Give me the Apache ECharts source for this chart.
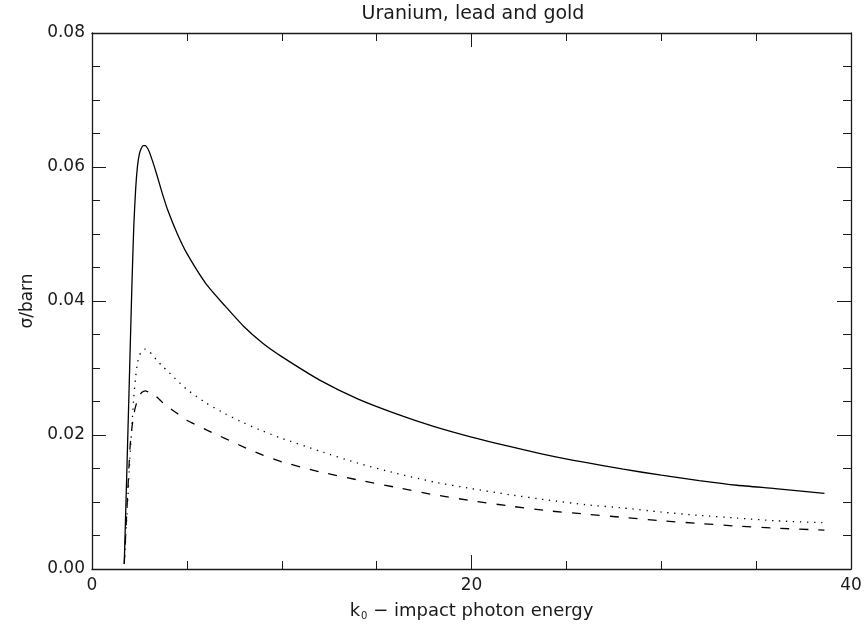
<!DOCTYPE html>
<html>
<head>
<meta charset="utf-8">
<script src="https://cdn.jsdelivr.net/npm/echarts@6/dist/echarts.min.js"></script>
<style>
  html, body { margin: 0; padding: 0; background: #fff; }
  #chart { width: 865px; height: 628px; }
</style>
</head>
<body>
<div id="chart"></div>
<script>
// Photon energy grid (k0) shared by the three cross-section curves
const k0 = [1.70, 1.85, 2.0, 2.1, 2.2, 2.3, 2.4, 2.5, 2.6, 2.7, 2.8, 3.0, 3.2, 3.4, 3.7, 4.0, 4.5, 5.0, 6.0, 7.0, 8.0, 9.0,
            10, 12, 14, 16, 18, 20, 22, 24, 26, 28, 30, 32, 34, 36, 38.6];

// Cross sections in barn
const sigmaSolid = [0.0008, 0.0160, 0.0316, 0.0420, 0.0510, 0.0567, 0.0602, 0.0620, 0.0628, 0.0632, 0.0632, 0.0624, 0.0608, 0.0590, 0.0561,
                    0.0535, 0.0500, 0.0471, 0.0426, 0.0393, 0.0362, 0.0337, 0.0317, 0.0282, 0.0254, 0.0232, 0.0213,
                    0.0197, 0.0183, 0.0170, 0.0159, 0.0149, 0.0140, 0.0132, 0.0125, 0.0120, 0.0113];
const sigmaDotted = [0.0008, 0.0085, 0.0165, 0.0212, 0.0255, 0.0287, 0.0308, 0.0319, 0.0324, 0.0327, 0.0328, 0.0325, 0.0319, 0.0312, 0.0303,
                     0.0295, 0.0281, 0.0268, 0.0248, 0.0232, 0.0218, 0.0206, 0.0195, 0.0176, 0.0158, 0.0143, 0.0130,
                     0.0120, 0.0111, 0.0103, 0.0096, 0.0091, 0.0085, 0.0080, 0.0076, 0.0072, 0.0069];
const sigmaDashed = [0.0008, 0.0095, 0.0180, 0.0210, 0.0230, 0.0243, 0.0252, 0.0258, 0.0263, 0.0265, 0.0266, 0.0264, 0.0261, 0.0257, 0.0249,
                     0.0242, 0.0232, 0.0222, 0.0208, 0.0195, 0.0182, 0.0170, 0.0160, 0.0145, 0.0133, 0.0122, 0.0111,
                     0.0102, 0.0094, 0.0087, 0.0082, 0.0077, 0.0072, 0.0068, 0.0064, 0.0061, 0.0058];

const xTicks = [0, 20, 40];
const yTicks = [0.00, 0.02, 0.04, 0.06, 0.08];

const FONT = '"DejaVu Sans", sans-serif';
const INK = '#1a1a1a';

const pairs = (ys) => k0.map((x, i) => [x, ys[i]]);

const tickCommon = {
  axisLine: { show: true, onZero: false, lineStyle: { color: INK, width: 1.3 } },
  axisTick: { show: true, inside: true, length: 14, lineStyle: { color: INK, width: 1 } },
  minorTick: { show: true, splitNumber: 4, length: 8, lineStyle: { color: INK, width: 1 } },
  splitLine: { show: false },
  minorSplitLine: { show: false }
};

const xBase = { type: 'value', min: xTicks[0], max: xTicks[xTicks.length - 1], interval: xTicks[1] - xTicks[0] };
const yBase = { type: 'value', min: yTicks[0], max: yTicks[yTicks.length - 1], interval: yTicks[1] - yTicks[0] };

const lineSeries = (name, ys, type) => ({
  name, type: 'line', xAxisIndex: 0, yAxisIndex: 0,
  data: pairs(ys), showSymbol: false, smooth: 0.2,
  lineStyle: { color: '#000', width: 1.3, type }
});

const chart = echarts.init(document.getElementById('chart'), null, { renderer: 'canvas' });
chart.setOption({
  animation: false,
  backgroundColor: '#ffffff',
  title: {
    text: 'Uranium, lead and gold',
    left: 468, top: 0, textAlign: 'center',
    textStyle: { fontFamily: FONT, fontWeight: 'normal', fontSize: 19, color: INK }
  },
  grid: { left: 92, right: 14, top: 33, bottom: 59, containLabel: false },
  xAxis: [
    Object.assign({}, xBase, tickCommon, {
      position: 'bottom',
      name: 'k{sub|0} − impact photon energy',
      nameLocation: 'middle', nameGap: 33,
      nameTextStyle: {
        fontFamily: FONT, fontSize: 18, color: INK,
        rich: { sub: { fontFamily: FONT, fontSize: 10, color: INK, padding: [9, 0, 0, 1] } }
      },
      axisLabel: { show: true, margin: 8, fontFamily: FONT, fontSize: 17, color: INK,
                   formatter: (v) => String(v) }
    }),
    Object.assign({}, xBase, tickCommon, { position: 'top', axisLabel: { show: false } })
  ],
  yAxis: [
    Object.assign({}, yBase, tickCommon, {
      position: 'left',
      name: 'σ/barn',
      nameLocation: 'middle', nameGap: 56, nameRotate: 90,
      nameTextStyle: { fontFamily: FONT, fontSize: 17, color: INK },
      axisLabel: { show: true, margin: 7, fontFamily: FONT, fontSize: 17, color: INK,
                   formatter: (v) => v.toFixed(2) }
    }),
    Object.assign({}, yBase, tickCommon, { position: 'right', axisLabel: { show: false } })
  ],
  series: [
    lineSeries('solid', sigmaSolid, 'solid'),
    lineSeries('dotted', sigmaDotted, [1.3, 5.7]),
    lineSeries('dashed', sigmaDashed, [9, 10])
  ]
});
</script>
</body>
</html>
